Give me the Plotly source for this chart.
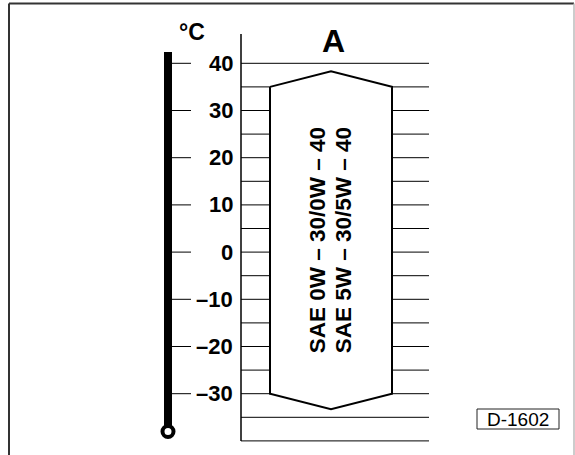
import plotly.graph_objects as go

# ---- data ----
tick_temps = [40, 30, 20, 10, 0, -10, -20, -30]
tick_labels = ["40", "30", "20", "10", "0", "–10", "–20", "–30"]
grid_temps = [40, 35, 30, 25, 20, 15, 10, 5, 0, -5, -10, -15, -20, -25, -30, -35, -40]
oil_upper_shoulder = 35
oil_upper_apex = 38.3
oil_lower_shoulder = -30
oil_lower_apex = -33.3
grade_labels = ["SAE 0W – 30/0W – 40", "SAE 5W – 30/5W – 40"]
grade_title = "A"
unit_label = "°C"
ref_code = "D-1602"
thermo_top = 42.4
thermo_bulb = -38.0
axis_top = 46.2
axis_bottom = -40

# ---- layout helpers ----
W, H = 575, 455
PX_PER_DEG = 4.72
Y_TOP = 40 + 63.3 / PX_PER_DEG
Y_BOT = Y_TOP - H / PX_PER_DEG


def T(py):
    return Y_TOP - py / PX_PER_DEG


FONT = "Liberation Sans, Arial, Helvetica, sans-serif"
GX0, GX1 = 241, 429
PX0, PX1 = 270, 392
PXC = (PX0 + PX1) / 2

fig = go.Figure()

# grid lines
gx, gy = [], []
for t in grid_temps:
    gx += [GX0, GX1, None]
    gy += [t, t, None]
fig.add_trace(go.Scatter(x=gx, y=gy, mode="lines", line=dict(color="black", width=1),
                         hoverinfo="skip", showlegend=False))
# vertical axis
fig.add_trace(go.Scatter(x=[GX0, GX0], y=[axis_top, axis_bottom], mode="lines",
                         line=dict(color="black", width=1.5), hoverinfo="skip", showlegend=False))
# oil polygon
fig.add_trace(go.Scatter(
    x=[PX0, PXC, PX1, PX1, PXC, PX0, PX0],
    y=[oil_upper_shoulder, oil_upper_apex, oil_upper_shoulder, oil_lower_shoulder,
       oil_lower_apex, oil_lower_shoulder, oil_upper_shoulder],
    mode="lines", fill="toself", fillcolor="white",
    line=dict(color="black", width=2), hoverinfo="skip", showlegend=False))

# thermometer ticks
tx, ty = [], []
for t in tick_temps:
    tx += [172, 191, None]
    ty += [t, t, None]
fig.add_trace(go.Scatter(x=tx, y=ty, mode="lines", line=dict(color="black", width=1),
                         hoverinfo="skip", showlegend=False))
# thermometer bar
fig.add_trace(go.Scatter(x=[168, 168], y=[thermo_top, thermo_bulb], mode="lines",
                         line=dict(color="black", width=8), hoverinfo="skip", showlegend=False))
# bulb
fig.add_trace(go.Scatter(x=[168], y=[thermo_bulb], mode="markers",
                         marker=dict(size=11, color="white", line=dict(color="black", width=4)),
                         hoverinfo="skip", showlegend=False))

ann = []
for t, lab in zip(tick_temps, tick_labels):
    ann.append(dict(x=235, y=t, text="<b>%s</b>" % lab, xanchor="right", yanchor="middle",
                    showarrow=False, font=dict(family=FONT, size=22, color="black")))
ann.append(dict(x=192, y=T(32), text="<b>%s</b>" % unit_label, showarrow=False,
                xanchor="center", yanchor="middle", font=dict(family=FONT, size=23, color="black")))
ann.append(dict(x=333, y=T(41), text="<b>%s</b>" % grade_title, showarrow=False,
                xanchor="center", yanchor="middle", font=dict(family=FONT, size=32, color="black")))
mid = (oil_upper_shoulder + oil_lower_shoulder) / 2
for xc, lab in zip([317, 343], grade_labels):
    ann.append(dict(x=xc, y=mid, text="<b>%s</b>" % lab, textangle=-90, showarrow=False,
                    xanchor="center", yanchor="middle", font=dict(family=FONT, size=22.5, color="black")))
ann.append(dict(x=518, y=T(419), text=ref_code, showarrow=False, xanchor="center", yanchor="middle",
                font=dict(family=FONT, size=19, color="black")))

shapes = [
    dict(type="rect", xref="x", yref="y", x0=477, x1=559, y0=T(409), y1=T(429),
         line=dict(color="#222", width=1), fillcolor="white", layer="below"),
    dict(type="line", xref="paper", yref="paper", x0=9 / W, x1=9 / W, y0=0, y1=1 - 3.5 / H,
         line=dict(color="#333", width=2)),
    dict(type="line", xref="paper", yref="paper", x0=9 / W, x1=574 / W, y0=1 - 3.5 / H, y1=1 - 3.5 / H,
         line=dict(color="#333", width=2)),
    dict(type="line", xref="paper", yref="paper", x0=574 / W, x1=574 / W, y0=0, y1=1 - 3.5 / H,
         line=dict(color="#bbb", width=1.5)),
]

fig.update_layout(
    width=W, height=H, margin=dict(l=0, r=0, t=0, b=0),
    paper_bgcolor="white", plot_bgcolor="white",
    xaxis=dict(range=[0, W], visible=False, fixedrange=True),
    yaxis=dict(range=[Y_BOT, Y_TOP], visible=False, fixedrange=True),
    annotations=ann, shapes=shapes, showlegend=False,
)
fig.write_html("out.html", config={"displayModeBar": False},
               post_script="document.body.style.margin='0';document.body.style.overflow='hidden';")
